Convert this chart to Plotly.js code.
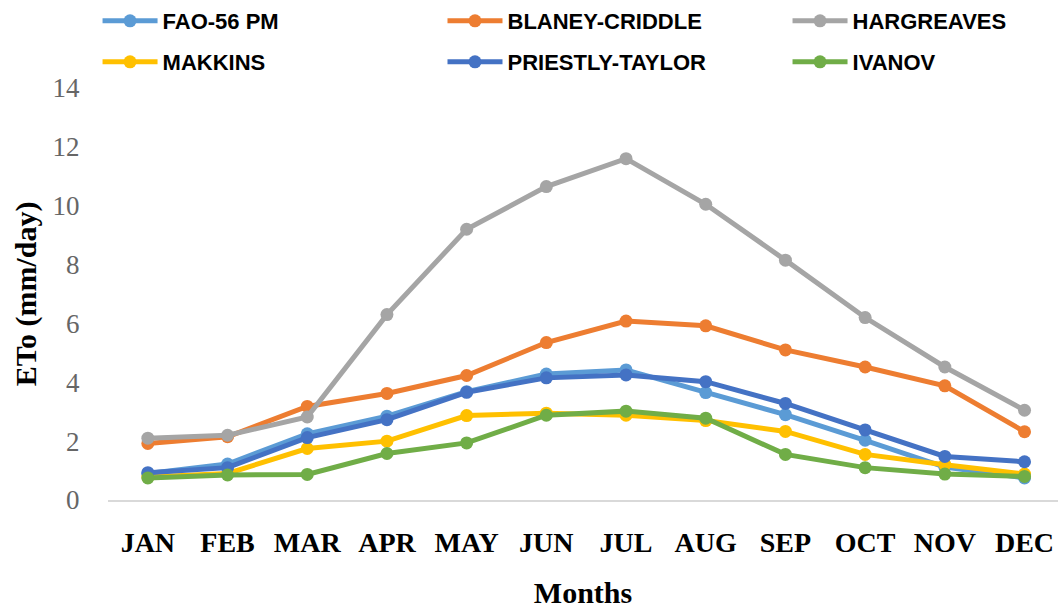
<!DOCTYPE html>
<html>
<head>
<meta charset="utf-8">
<script src="https://cdn.plot.ly/plotly-3.0.1.min.js"></script>
<style>html,body{margin:0;padding:0;background:#fff;}#chart{width:1058px;height:609px;}</style>
</head>
<body>
<div id="chart"></div>
<script>
const months = ["JAN","FEB","MAR","APR","MAY","JUN","JUL","AUG","SEP","OCT","NOV","DEC"];
const fao56pm      = [0.90, 1.22, 2.25, 2.85, 3.68, 4.28, 4.42, 3.65, 2.90, 2.03, 1.12, 0.75];
const blaneyCriddle= [1.92, 2.15, 3.18, 3.62, 4.23, 5.35, 6.08, 5.92, 5.10, 4.52, 3.88, 2.32];
const hargreaves   = [2.10, 2.20, 2.82, 6.30, 9.20, 10.65, 11.60, 10.05, 8.15, 6.20, 4.52, 3.05];
const makkins      = [0.78, 0.90, 1.75, 2.00, 2.87, 2.95, 2.88, 2.70, 2.33, 1.55, 1.20, 0.88];
const priestlyTaylor=[0.93, 1.10, 2.12, 2.73, 3.66, 4.15, 4.25, 4.02, 3.28, 2.38, 1.48, 1.30];
const ivanov       = [0.75, 0.85, 0.87, 1.58, 1.94, 2.88, 3.02, 2.78, 1.55, 1.10, 0.88, 0.80];

const seriesNames = ["FAO-56 PM","BLANEY-CRIDDLE","HARGREAVES","MAKKINS","PRIESTLY-TAYLOR","IVANOV"];
const seriesData = [fao56pm, blaneyCriddle, hargreaves, makkins, priestlyTaylor, ivanov];
const seriesColors = ["#5B9BD5","#ED7D31","#A5A5A5","#FFC000","#4472C4","#70AD47"];
const legendIds = ["legend","legend2","legend3","legend4","legend5","legend6"];
const legendX = [-0.011, 0.3521, 0.7153, -0.011, 0.3521, 0.7153];
const legendY = [1.162, 1.162, 1.162, 1.0605, 1.0605, 1.0605];

const traces = seriesNames.map((n,i)=>({
  type:'scatter', mode:'lines+markers', name:n, x:months, y:seriesData[i],
  legend: legendIds[i],
  line:{color:seriesColors[i], width:5},
  marker:{color:seriesColors[i], size:13},
  cliponaxis:false
}));

const legendFont = {family:'"Liberation Sans", Arial, sans-serif', size:22, color:'#000', weight:'bold'};
const layout = {
  width:1058, height:609,
  margin:{l:108, r:0, t:87, b:109},
  paper_bgcolor:'#fff', plot_bgcolor:'#fff',
  showlegend:true,
  xaxis:{
    type:'category', range:[-0.5, 11.42],
    showgrid:false, zeroline:false,
    showline:true, linecolor:'#d9d9d9', linewidth:2,
    ticks:'outside', ticklen:16, tickcolor:'rgba(0,0,0,0)',
    tickfont:{family:'"Liberation Serif", "Times New Roman", serif', size:28, color:'#000', weight:'bold'},
    title:{text:'Months', standoff:38, font:{family:'"Liberation Serif", "Times New Roman", serif', size:30, color:'#000', weight:'bold'}}
  },
  yaxis:{
    range:[0,14], dtick:2, tick0:0,
    showgrid:false, zeroline:false, showline:false,
    ticks:'outside', ticklen:22, tickcolor:'rgba(0,0,0,0)',
    tickfont:{family:'"Liberation Serif", "Times New Roman", serif', size:27, color:'#666'},
    title:{text:'ETo (mm/day)', standoff:7, font:{family:'"Liberation Serif", "Times New Roman", serif', size:30, color:'#000', weight:'bold'}}
  }
};
legendIds.forEach((id,i)=>{
  layout[id] = {orientation:'h', x:legendX[i], xanchor:'left', y:legendY[i], yanchor:'middle',
                font:legendFont, itemwidth:55, bgcolor:'rgba(0,0,0,0)'};
});
Plotly.newPlot('chart', traces, layout, {displayModeBar:false, staticPlot:true});
</script>
</body>
</html>
